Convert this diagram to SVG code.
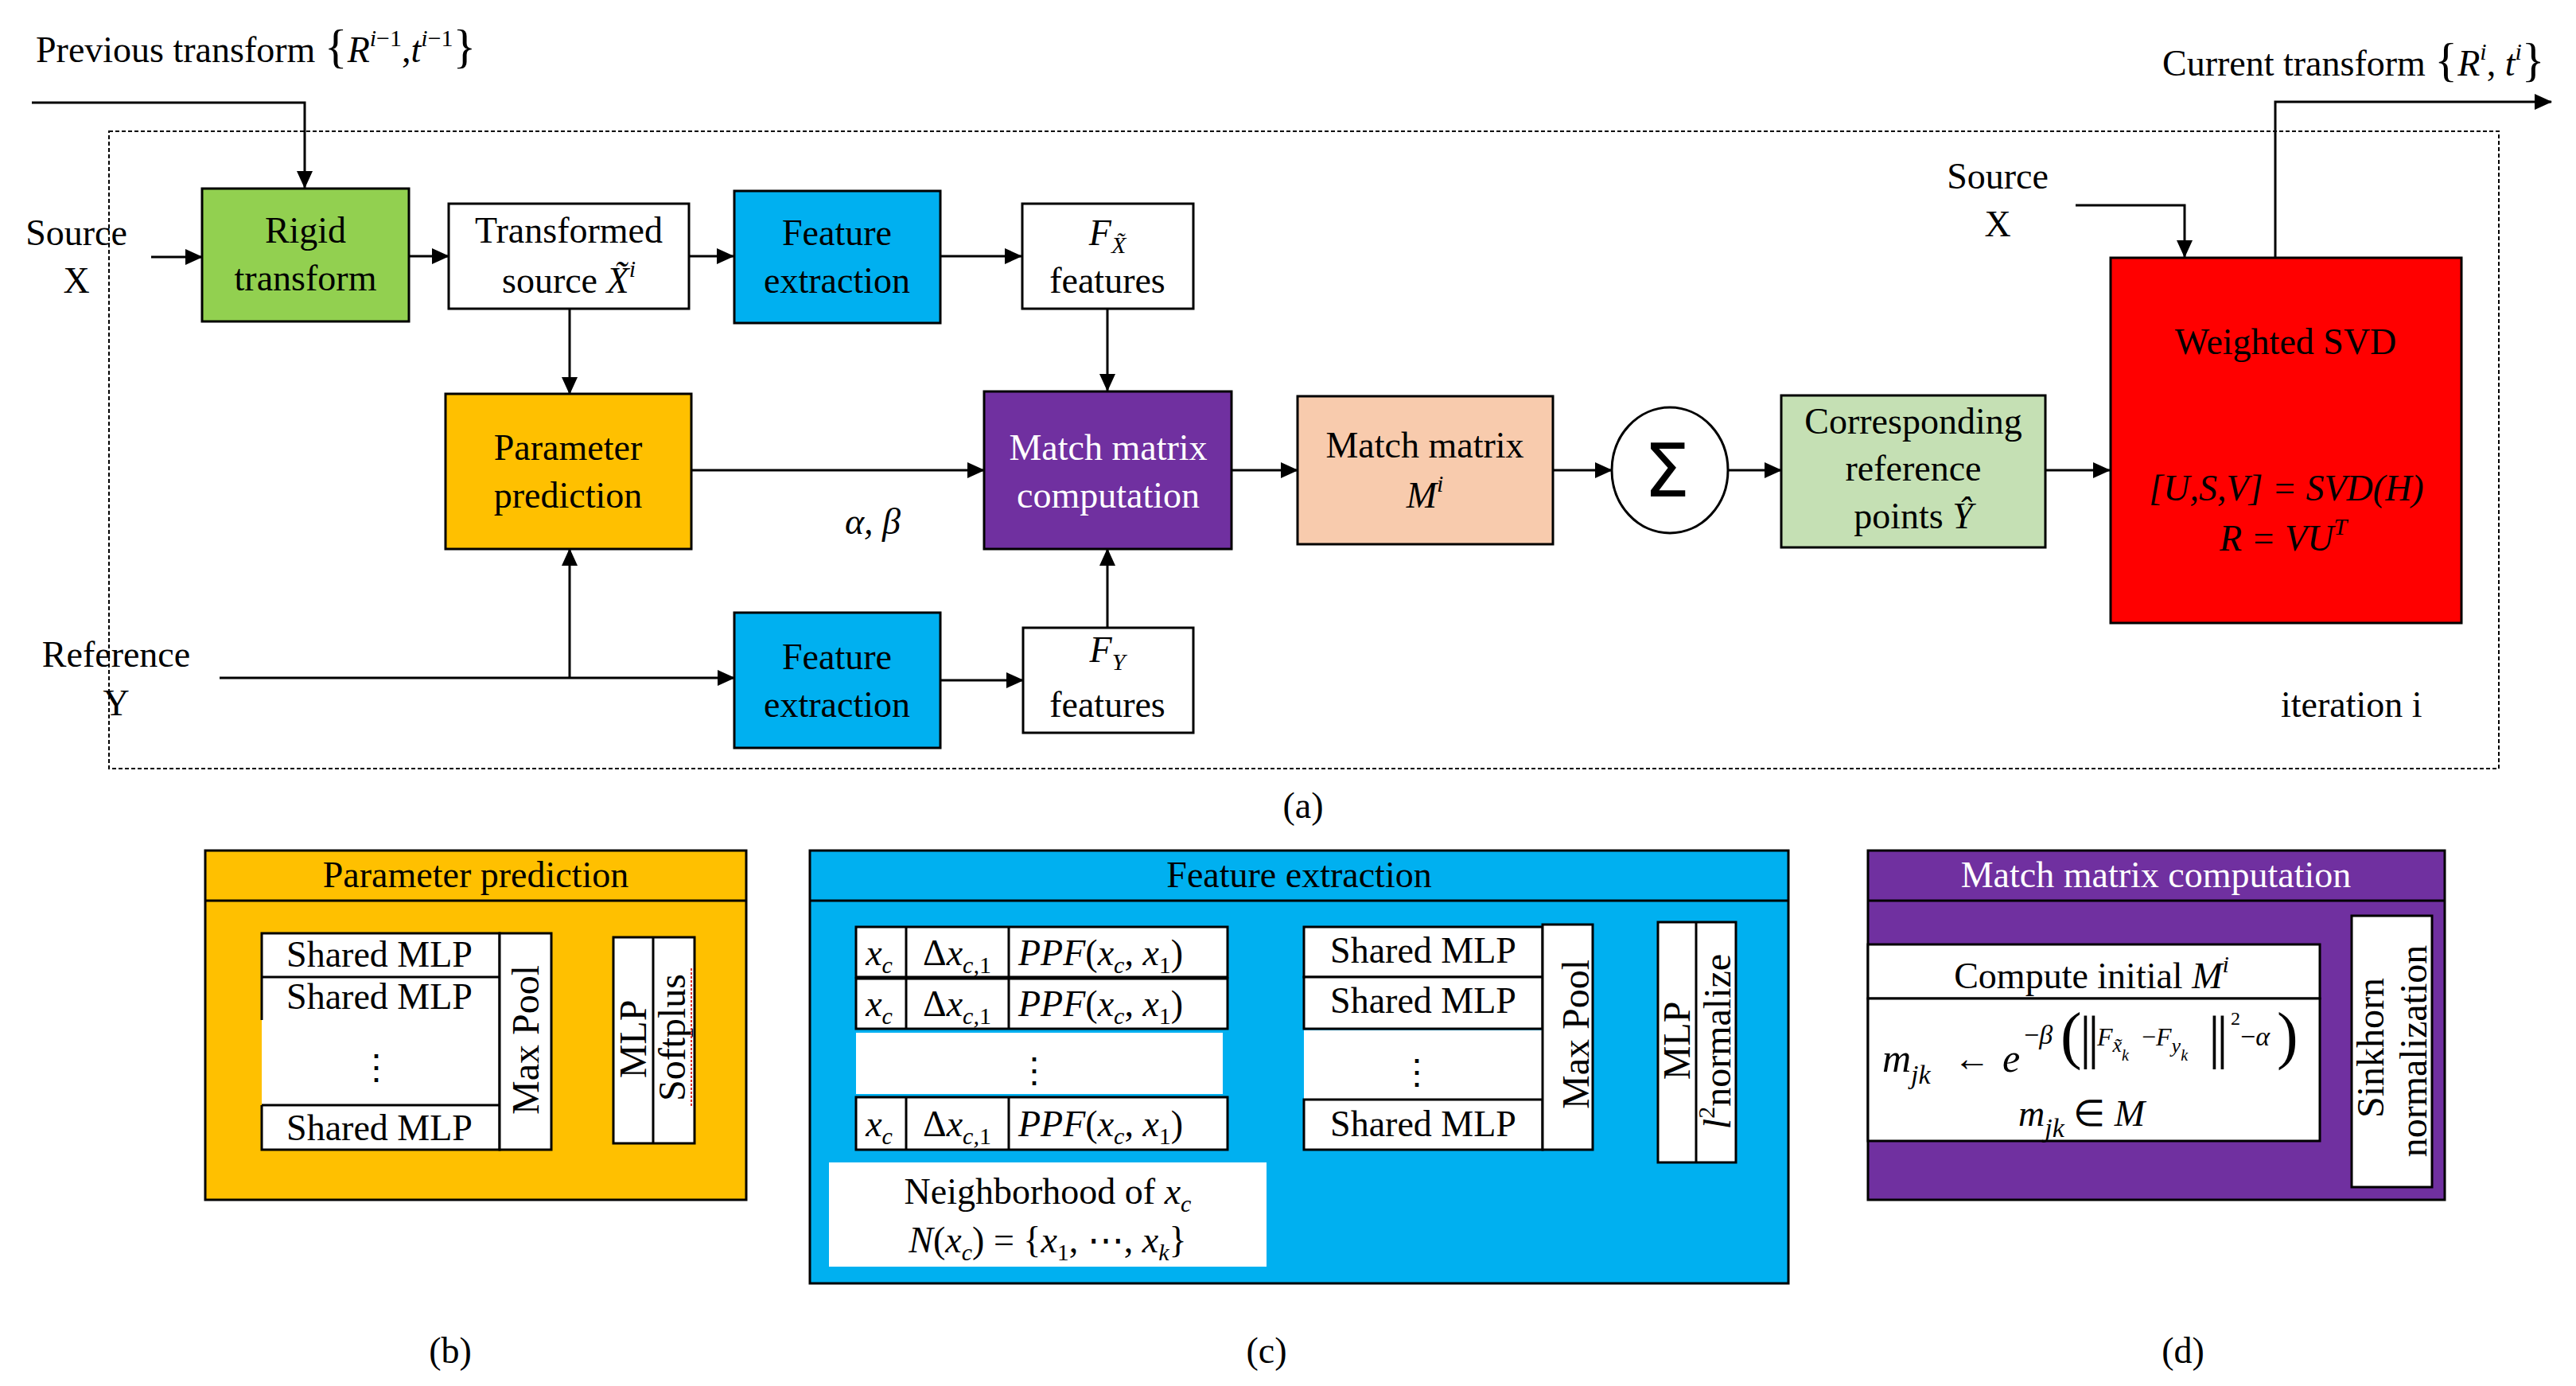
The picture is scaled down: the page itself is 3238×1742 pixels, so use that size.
<svg xmlns="http://www.w3.org/2000/svg" width="3238" height="1742" viewBox="0 0 3238 1742">
<defs>
<style>
text{font-family:"Liberation Serif","Times New Roman",serif;font-size:46px;fill:#000}
.m{text-anchor:middle}
.i{font-style:italic}
.n{font-style:normal}
.w{fill:#fff}
.bx{stroke:#000;stroke-width:3}
.ln{stroke:#000;stroke-width:3;fill:none}
.a{marker-end:url(#ah)}
.sub{font-size:30px}
.rot{font-size:48px;text-anchor:middle}
.dots{font-family:"DejaVu Serif",serif;font-size:44px;text-anchor:middle}
</style>
<marker id="ah" markerUnits="userSpaceOnUse" markerWidth="22" markerHeight="20" refX="21" refY="10" orient="auto"><path d="M0,0 L22,10 L0,20 z" fill="#000"/></marker>
</defs>
<rect width="3238" height="1742" fill="#fff"/>

<!-- iteration frame -->
<rect id="frame" x="137" y="165" width="3004" height="801" fill="none" stroke="#000" stroke-width="2" stroke-dasharray="5,3"/>

<!-- free labels -->
<g id="labels">
<text x="45" y="78">Previous transform <tspan font-size="60">{</tspan><tspan class="i">R</tspan><tspan class="i sub" dy="-20">i</tspan><tspan class="sub">−1</tspan><tspan dy="20">,</tspan><tspan class="i">t</tspan><tspan class="i sub" dy="-20">i</tspan><tspan class="sub">−1</tspan><tspan dy="20" font-size="60">}</tspan></text>
<text x="2718" y="95">Current transform <tspan font-size="60">{</tspan><tspan class="i">R</tspan><tspan class="i sub" dy="-20">i</tspan><tspan dy="20">, </tspan><tspan class="i">t</tspan><tspan class="i sub" dy="-20">i</tspan><tspan dy="20" font-size="60">}</tspan></text>
<text x="96" y="308" class="m">Source</text>
<text x="96" y="368" class="m">X</text>
<text x="2511" y="237" class="m">Source</text>
<text x="2511" y="297" class="m">X</text>
<text x="146" y="838" class="m">Reference</text>
<text x="146" y="899" class="m">Y</text>
<text x="1097" y="671" class="m i">α, β</text>
<text x="2867" y="901">iteration i</text>
<text x="1638" y="1028" class="m">(a)</text>
<text x="566" y="1713" class="m">(b)</text>
<text x="1592" y="1713" class="m">(c)</text>
<text x="2744" y="1713" class="m">(d)</text>
</g>

<!-- connectors -->
<g id="connectors">
<polyline class="ln a" points="40,129 383,129 383,236"/>
<line class="ln a" x1="190" y1="323" x2="254" y2="323"/>
<line class="ln a" x1="514" y1="322" x2="564" y2="322"/>
<line class="ln a" x1="866" y1="322" x2="922" y2="322"/>
<line class="ln a" x1="1182" y1="322" x2="1284" y2="322"/>
<line class="ln a" x1="1392" y1="388" x2="1392" y2="491"/>
<line class="ln a" x1="716" y1="388" x2="716" y2="495"/>
<line class="ln a" x1="869" y1="591" x2="1237" y2="591"/>
<line class="ln a" x1="1549" y1="591" x2="1631" y2="591"/>
<line class="ln a" x1="1952" y1="591" x2="2026" y2="591"/>
<line class="ln a" x1="2172" y1="591" x2="2239" y2="591"/>
<line class="ln a" x1="2571" y1="591" x2="2652" y2="591"/>
<polyline class="ln a" points="2609,258 2746,258 2746,323"/>
<polyline class="ln a" points="2860,323 2860,128 3207,128"/>
<line class="ln a" x1="276" y1="852" x2="923" y2="852"/>
<line class="ln a" x1="716" y1="852" x2="716" y2="690"/>
<line class="ln a" x1="1182" y1="855" x2="1286" y2="855"/>
<line class="ln a" x1="1392" y1="789" x2="1392" y2="690"/>
</g>

<!-- main nodes -->
<g id="rigid">
<rect class="bx" x="254" y="237" width="260" height="167" fill="#92D050"/>
<text x="384" y="305" class="m">Rigid</text>
<text x="384" y="365" class="m">transform</text>
</g>
<g id="transformed">
<rect class="bx" x="564" y="256" width="302" height="132" fill="#fff"/>
<text x="715" y="305" class="m">Transformed</text>
<text x="715" y="368" class="m">source <tspan class="i">X̃</tspan><tspan class="i sub" dy="-20">i</tspan></text>
</g>
<g id="fe-top">
<rect class="bx" x="923" y="240" width="259" height="166" fill="#00B0F0"/>
<text x="1052" y="308" class="m">Feature</text>
<text x="1052" y="368" class="m">extraction</text>
</g>
<g id="fx">
<rect class="bx" x="1285" y="256" width="215" height="132" fill="#fff"/>
<text x="1392" y="308" class="m"><tspan class="i">F</tspan><tspan class="i sub" dy="10">X̃</tspan></text>
<text x="1392" y="368" class="m">features</text>
</g>
<g id="param">
<rect class="bx" x="560" y="495" width="309" height="195" fill="#FFC000"/>
<text x="714" y="578" class="m">Parameter</text>
<text x="714" y="638" class="m">prediction</text>
</g>
<g id="matchcomp">
<rect class="bx" x="1237" y="492" width="311" height="198" fill="#7030A0"/>
<text x="1393" y="578" class="m w">Match matrix</text>
<text x="1393" y="638" class="m w">computation</text>
</g>
<g id="matchM">
<rect class="bx" x="1631" y="498" width="321" height="186" fill="#F8CBAD"/>
<text x="1791" y="575" class="m">Match matrix</text>
<text x="1791" y="638" class="m"><tspan class="i">M</tspan><tspan class="i sub" dy="-20">i</tspan></text>
</g>
<g id="sigma">
<ellipse cx="2099" cy="591" rx="73" ry="79" fill="#fff" stroke="#000" stroke-width="3"/>
<text x="2095" y="624" class="m" style="font-family:'DejaVu Sans',sans-serif;font-size:92px">Σ</text>
</g>
<g id="corr">
<rect class="bx" x="2239" y="497" width="332" height="191" fill="#C5E0B4"/>
<text x="2405" y="545" class="m">Corresponding</text>
<text x="2405" y="604" class="m">reference</text>
<text x="2405" y="664" class="m">points <tspan class="i">Ŷ</tspan></text>
</g>
<g id="svd">
<rect class="bx" x="2653" y="324" width="441" height="459" fill="#FF0000"/>
<text x="2873" y="445" class="m">Weighted SVD</text>
<text x="2874" y="629" class="m i">[U,S,V] = SVD(H)</text>
<text x="2870" y="692" class="m i">R = VU<tspan class="sub" dy="-20">T</tspan></text>
</g>
<g id="fe-bot">
<rect class="bx" x="923" y="770" width="259" height="170" fill="#00B0F0"/>
<text x="1052" y="841" class="m">Feature</text>
<text x="1052" y="901" class="m">extraction</text>
</g>
<g id="fy">
<rect class="bx" x="1286" y="789" width="214" height="132" fill="#fff"/>
<text x="1392" y="832" class="m"><tspan class="i">F</tspan><tspan class="i sub" dy="10">Y</tspan></text>
<text x="1392" y="901" class="m">features</text>
</g>

<!-- (b) parameter prediction panel -->
<g id="panel-b">
<rect class="bx" x="258" y="1069" width="680" height="439" fill="#FFC000"/>
<line class="ln" x1="258" y1="1132" x2="938" y2="1132"/>
<text x="598" y="1115" class="m">Parameter prediction</text>
<rect x="329" y="1173" width="299" height="272" fill="#fff"/>
<path class="ln" d="M329,1282 V1173 H628 V1445 H329 V1389 M329,1228 H628 M329,1389 H628"/>
<text x="477" y="1215" class="m">Shared MLP</text>
<text x="477" y="1268" class="m">Shared MLP</text>
<text x="473" y="1356" class="dots">⋮</text>
<text x="477" y="1433" class="m">Shared MLP</text>
<rect class="bx" x="628" y="1173" width="65" height="272" fill="#fff"/>
<text class="rot" transform="translate(677,1307) rotate(-90)">Max Pool</text>
<rect class="bx" x="771" y="1178" width="102" height="259" fill="#fff"/>
<line class="ln" x1="821" y1="1178" x2="821" y2="1437"/>
<text class="rot" transform="translate(812,1306) rotate(-90)">MLP</text>
<text class="rot" transform="translate(861,1304) rotate(-90)">Softplus</text>
<line x1="869" y1="1217" x2="869" y2="1390" stroke="#E0302A" stroke-width="2" stroke-dasharray="3,2"/>
</g>

<!-- (c) feature extraction panel -->
<g id="panel-c">
<rect class="bx" x="1018" y="1069" width="1230" height="544" fill="#00B0F0"/>
<line class="ln" x1="1018" y1="1132" x2="2248" y2="1132"/>
<text x="1633" y="1115" class="m">Feature extraction</text>
<g id="row1">
<rect class="bx" x="1076" y="1165" width="467" height="63" fill="#fff"/>
<path class="ln" d="M1139,1165 V1228 M1268,1165 V1228"/>
<text x="1105" y="1213" class="m i">x<tspan class="sub" dy="10">c</tspan></text>
<text x="1203" y="1213" class="m">Δ<tspan class="i">x</tspan><tspan class="i sub" dy="10">c,</tspan><tspan class="sub">1</tspan></text>
<text x="1280" y="1213"><tspan class="i">PPF</tspan>(<tspan class="i">x</tspan><tspan class="i sub" dy="10">c</tspan><tspan dy="-10">, </tspan><tspan class="i">x</tspan><tspan class="sub" dy="10">1</tspan><tspan dy="-10">)</tspan></text>
</g>
<g id="row2">
<rect class="bx" x="1076" y="1230" width="467" height="63" fill="#fff"/>
<path class="ln" d="M1139,1230 V1293 M1268,1230 V1293"/>
<text x="1105" y="1277" class="m i">x<tspan class="sub" dy="10">c</tspan></text>
<text x="1203" y="1277" class="m">Δ<tspan class="i">x</tspan><tspan class="i sub" dy="10">c,</tspan><tspan class="sub">1</tspan></text>
<text x="1280" y="1277"><tspan class="i">PPF</tspan>(<tspan class="i">x</tspan><tspan class="i sub" dy="10">c</tspan><tspan dy="-10">, </tspan><tspan class="i">x</tspan><tspan class="sub" dy="10">1</tspan><tspan dy="-10">)</tspan></text>
</g>
<rect x="1076" y="1298" width="461" height="77" fill="#fff"/>
<text x="1300" y="1360" class="dots">⋮</text>
<g id="row4">
<rect class="bx" x="1076" y="1379" width="467" height="66" fill="#fff"/>
<path class="ln" d="M1139,1379 V1445 M1268,1379 V1445"/>
<text x="1105" y="1428" class="m i">x<tspan class="sub" dy="10">c</tspan></text>
<text x="1203" y="1428" class="m">Δ<tspan class="i">x</tspan><tspan class="i sub" dy="10">c,</tspan><tspan class="sub">1</tspan></text>
<text x="1280" y="1428"><tspan class="i">PPF</tspan>(<tspan class="i">x</tspan><tspan class="i sub" dy="10">c</tspan><tspan dy="-10">, </tspan><tspan class="i">x</tspan><tspan class="sub" dy="10">1</tspan><tspan dy="-10">)</tspan></text>
</g>
<rect x="1042" y="1461" width="550" height="131" fill="#fff"/>
<text x="1317" y="1513" class="m">Neighborhood of <tspan class="i">x</tspan><tspan class="i sub" dy="10">c</tspan></text>
<text x="1317" y="1574" class="m"><tspan class="i">N</tspan>(<tspan class="i">x</tspan><tspan class="i sub" dy="10">c</tspan><tspan dy="-10">) = {</tspan><tspan class="i">x</tspan><tspan class="sub" dy="10">1</tspan><tspan dy="-10">, ⋯, </tspan><tspan class="i">x</tspan><tspan class="i sub" dy="10">k</tspan><tspan dy="-10">}</tspan></text>
<rect class="bx" x="1639" y="1165" width="300" height="63" fill="#fff"/>
<rect class="bx" x="1639" y="1228" width="300" height="65" fill="#fff"/>
<rect x="1639" y="1295" width="300" height="87" fill="#fff"/>
<rect class="bx" x="1639" y="1382" width="300" height="63" fill="#fff"/>
<text x="1789" y="1210" class="m">Shared MLP</text>
<text x="1789" y="1273" class="m">Shared MLP</text>
<text x="1781" y="1362" class="dots">⋮</text>
<text x="1789" y="1428" class="m">Shared MLP</text>
<rect class="bx" x="1939" y="1162" width="63" height="283" fill="#fff"/>
<text class="rot" transform="translate(1997,1300) rotate(-90)">Max Pool</text>
<rect class="bx" x="2084" y="1159" width="98" height="302" fill="#fff"/>
<line class="ln" x1="2132" y1="1159" x2="2132" y2="1461"/>
<text class="rot" transform="translate(2124,1308) rotate(-90)">MLP</text>
<text class="rot" transform="translate(2175,1309) rotate(-90)"><tspan class="i">l</tspan><tspan font-size="30" dy="-20">2</tspan><tspan dy="20">normalize</tspan></text>
</g>

<!-- (d) match matrix computation panel -->
<g id="panel-d">
<rect class="bx" x="2348" y="1069" width="725" height="439" fill="#7030A0"/>
<line class="ln" x1="2348" y1="1132" x2="3073" y2="1132"/>
<text x="2710" y="1115" class="m w">Match matrix computation</text>
<rect class="bx" x="2348" y="1187" width="568" height="68" fill="#fff"/>
<text x="2629" y="1242" class="m">Compute initial <tspan class="i">M</tspan><tspan class="i sub" dy="-20">i</tspan></text>
<rect class="bx" x="2348" y="1255" width="568" height="179" fill="#fff"/>
<text x="2366" y="1347"><tspan class="i" font-size="50">m</tspan><tspan class="i" font-size="34" y="1362">jk</tspan><tspan x="2456" y="1346">←</tspan><tspan class="i" font-size="50" x="2517" y="1347">e</tspan><tspan font-size="34" x="2544" y="1312">−</tspan><tspan class="i" font-size="34">β</tspan><tspan font-size="80" x="2590" y="1328">(</tspan><tspan font-size="74" x="2614" y="1328">|</tspan><tspan font-size="74" x="2624" y="1328">|</tspan><tspan class="i" font-size="32" x="2636" y="1314">F</tspan><tspan class="i" font-size="26" y="1322">x̃</tspan><tspan class="i" font-size="20" y="1333">k</tspan><tspan font-size="32" x="2692" y="1314">−</tspan><tspan class="i" font-size="32">F</tspan><tspan class="i" font-size="26" y="1323">y</tspan><tspan class="i" font-size="20" y="1333">k</tspan><tspan font-size="74" x="2776" y="1328">|</tspan><tspan font-size="74" x="2786" y="1328">|</tspan><tspan font-size="24" x="2804" y="1288">2</tspan><tspan font-size="34" x="2816" y="1314">−</tspan><tspan class="i" font-size="34">α</tspan><tspan font-size="80" x="2862" y="1328">)</tspan></text>
<text x="2537" y="1415" class="i" font-size="50">m<tspan font-size="34" dy="14">jk</tspan><tspan class="n" font-size="46" dy="-14"> ∈ </tspan>M</text>
<rect class="bx" x="2956" y="1151" width="101" height="341" fill="#fff"/>
<text class="rot" transform="translate(2996,1317) rotate(-90)">Sinkhorn</text>
<text class="rot" transform="translate(3050,1321) rotate(-90)">normalization</text>
</g>
</svg>
